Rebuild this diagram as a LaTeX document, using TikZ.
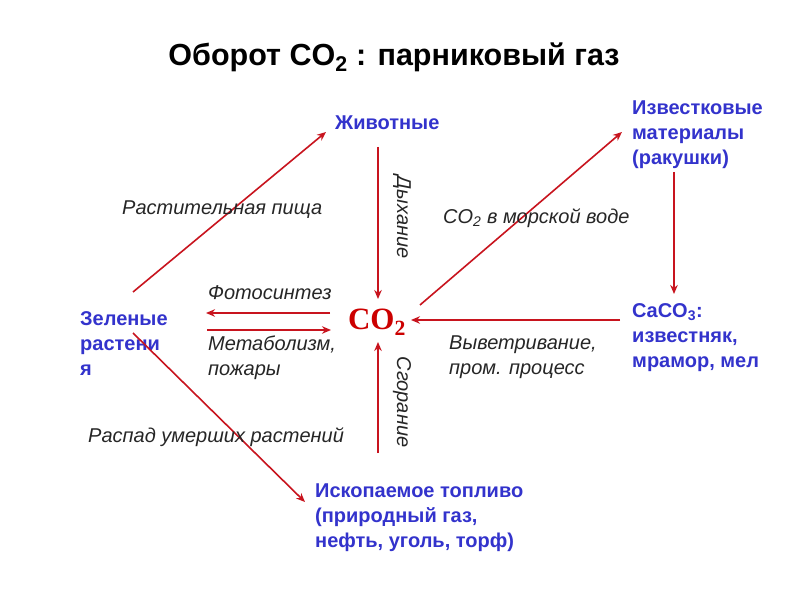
\documentclass[tikz,border=0pt]{standalone}
\usepackage{fontspec}
\setmainfont{Liberation Sans}
\newfontfamily\serifco{Liberation Serif}
\usetikzlibrary{arrows.meta}
\definecolor{bluetxt}{RGB}{51,51,204}
\definecolor{redarr}{RGB}{200,20,30}
\definecolor{redco}{RGB}{204,0,0}
\tikzset{
  lbl/.style={font=\bfseries\fontsize{20}{25}\selectfont, text=bluetxt, align=left, anchor=north west, inner sep=0pt},
  itl/.style={font=\itshape\fontsize{20}{24.5}\selectfont, text=black!85, align=left, anchor=west, inner sep=0pt},
  arr/.style={draw=redarr, line width=1.6pt, -{Stealth[length=9pt,width=7.5pt]}},
}
\begin{document}
\begin{tikzpicture}[x=1pt,y=-1pt]
\useasboundingbox (0,0) rectangle (800,601);
\fill[white] (0,0) rectangle (800,601);
\node[font=\bfseries\fontsize{30.5}{34}\selectfont] (title) at (394,57) {Оборот CO\textsubscript{2} : парниковый газ};

\node[lbl] (anim) at (335,116) {Животные};
\node[lbl] (shell) at (632,101) {Известковые\\материалы\\(ракушки)};
\node[lbl] (caco) at (632,303) {CaCO\textsubscript{3}:\\известняк,\\мрамор, мел};
\node[lbl] (green) at (80,311) {Зеленые\\растени\\я};
\node[lbl] (fuel) at (315,484) {Ископаемое топливо\\(природный газ,\\нефть, уголь, торф)};
\node[font=\serifco\bfseries\fontsize{31}{34}\selectfont, text=redco, inner sep=0pt] (co2) at (377,322) {CO\textsubscript{2}};

\coordinate (a1s) at (133,292); \coordinate (a1e) at (326,132);
\coordinate (a2s) at (378,147); \coordinate (a2e) at (378,299);
\coordinate (a3s) at (420,305); \coordinate (a3e) at (622,132);
\coordinate (a4s) at (674,172); \coordinate (a4e) at (674,294);
\coordinate (a5s) at (620,320); \coordinate (a5e) at (411,320);
\coordinate (a6s) at (330,313); \coordinate (a6e) at (206,313);
\coordinate (a7s) at (207,330); \coordinate (a7e) at (331,330);
\coordinate (a8s) at (378,453); \coordinate (a8e) at (378,342);
\coordinate (a9s) at (133,333); \coordinate (a9e) at (305,502);

\draw[arr] (a1s) -- (a1e);
\draw[arr] (a2s) -- (a2e);
\draw[arr] (a3s) -- (a3e);
\draw[arr] (a4s) -- (a4e);
\draw[arr] (a5s) -- (a5e);
\draw[arr] (a6s) -- (a6e);
\draw[arr] (a7s) -- (a7e);
\draw[arr] (a8s) -- (a8e);
\draw[arr] (a9s) -- (a9e);

\node[itl] (l1) at (122,210) {Растительная пища};
\node[itl] (l2) at (208,293) {Фотосинтез};
\node[itl, anchor=north west] (l3) at (208,336) {Метаболизм,\\пожары};
\node[itl, anchor=center, rotate=-90] (l4) at (402,217) {Дыхание};
\node[itl] (l5) at (443,218) {CO\textsubscript{2} в морской воде};
\node[itl, anchor=north west] (l6) at (449,336) {Выветривание,\\пром. процесс};
\node[itl, anchor=center, rotate=-90] (l7) at (402,402) {Сгорание};
\node[itl] (l8) at (88,437) {Распад умерших растений};
\end{tikzpicture}
\end{document}
